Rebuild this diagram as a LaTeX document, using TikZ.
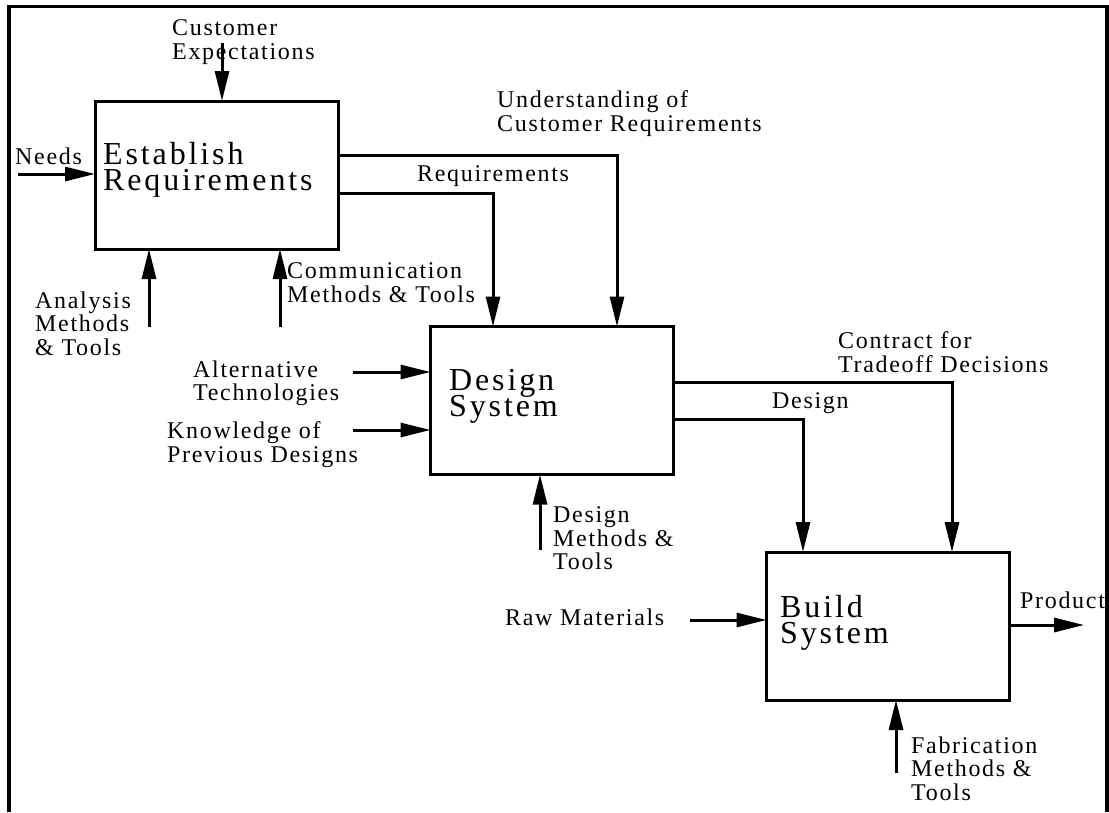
\documentclass[tikz,border=0pt]{standalone}
\usepackage{fontspec}
\newfontfamily\lblfont[LetterSpace=7]{Liberation Serif}
\newfontfamily\ttlfont[LetterSpace=9]{Liberation Serif}
\usetikzlibrary{arrows.meta}
% keep multi-line labels on a fixed baseline grid
\lineskiplimit=-50pt\relax

\begin{document}
\begin{tikzpicture}[x=1pt,y=-1pt,
  box/.style={draw, line width=3pt, minimum width=243pt, minimum height=148pt, inner sep=0pt, outer sep=0pt},
  lbl/.style={anchor=north west, inner sep=0pt, align=left, font=\lblfont\fontsize{24}{23.5}\selectfont},
  ttl/.style={anchor=north west, inner sep=0pt, align=left, font=\ttlfont\fontsize{32}{26}\selectfont},
  arr/.style={line width=3pt, -{Triangle[length=30pt,width=14pt]}},
  wire/.style={line width=3pt}]

\useasboundingbox (0,0) rectangle (1109,812);

% open frame (no bottom edge)
\draw[line width=3.5pt] (9,812) -- (9,6.5) -- (1107,6.5) -- (1107,812);

% activity boxes
\node[box] (b1) at (216.5,175) {};
\node[box] (b2) at (552,400.5) {};
\node[box] (b3) at (888,626) {};

% box titles
\node[ttl] (t1) at (103,142) {Establish\\Requirements};
\node[ttl] (t2) at (449,369) {Design\\System};
\node[ttl] (t3) at (780,595) {Build\\System};

% labels
\node[lbl] (lce) at (172,19.6) {Customer\\Expectations};
\node[lbl] (lneeds) at (15,147.6) {Needs};
\node[lbl] (lana) at (35,291.6) {Analysis\\Methods\\\& Tools};
\node[lbl] (lcom) at (287,262.6) {Communication\\Methods \& Tools};
\node[lbl] (lund) at (497,90.6) {Understanding of\\Customer Requirements};
\node[lbl] (lreq) at (417,165.6) {Requirements};
\node[lbl] (lalt) at (193,360.6) {Alternative\\Technologies};
\node[lbl] (lknow) at (167,421.6) {Knowledge of\\Previous Designs};
\node[lbl] (ldmt) at (553,506.6) {Design\\Methods \&\\Tools};
\node[lbl] (lcon) at (838,331.6) {Contract for\\Tradeoff Decisions};
\node[lbl] (ldes) at (772,392.6) {Design};
\node[lbl] (lraw) at (505,608.6) {Raw Materials};
\node[lbl] (lprod) at (1020,591.6) {Product};
\node[lbl] (lfab) at (911,736.6) {Fabrication\\Methods \&\\Tools};

% free ends and bend points of connectors
\coordinate (ce) at (222,43);
\coordinate (nd) at (18,174);
\coordinate (an) at (149,327);
\coordinate (cm) at (280,327);
\coordinate (un) at (617,155);
\coordinate (rq) at (493,193);
\coordinate (al) at (353,372);
\coordinate (kn) at (353,430);
\coordinate (dm) at (540,550);
\coordinate (ct) at (952,382);
\coordinate (dg) at (803,419);
\coordinate (rw) at (690,620);
\coordinate (fb) at (896,773);
\coordinate (pr) at (1084,625);

% connectors into and out of Establish Requirements
\draw[arr] (ce) -- (ce |- b1.north);
\draw[arr] (nd) -- (nd -| b1.west);
\draw[arr] (an) -- (an |- b1.south);
\draw[arr] (cm) -- (cm |- b1.south);
\draw[arr] (b1.east |- un) -| (un |- b2.north);
\draw[arr] (b1.east |- rq) -| (rq |- b2.north);

% connectors into and out of Design System
\draw[arr] (al) -- (al -| b2.west);
\draw[arr] (kn) -- (kn -| b2.west);
\draw[arr] (dm) -- (dm |- b2.south);
\draw[arr] (b2.east |- ct) -| (ct |- b3.north);
\draw[arr] (b2.east |- dg) -| (dg |- b3.north);

% connectors into and out of Build System
\draw[arr] (rw) -- (rw -| b3.west);
\draw[arr] (fb) -- (fb |- b3.south);
\draw[arr] (b3.east |- pr) -- (pr);
\end{tikzpicture}
\end{document}
